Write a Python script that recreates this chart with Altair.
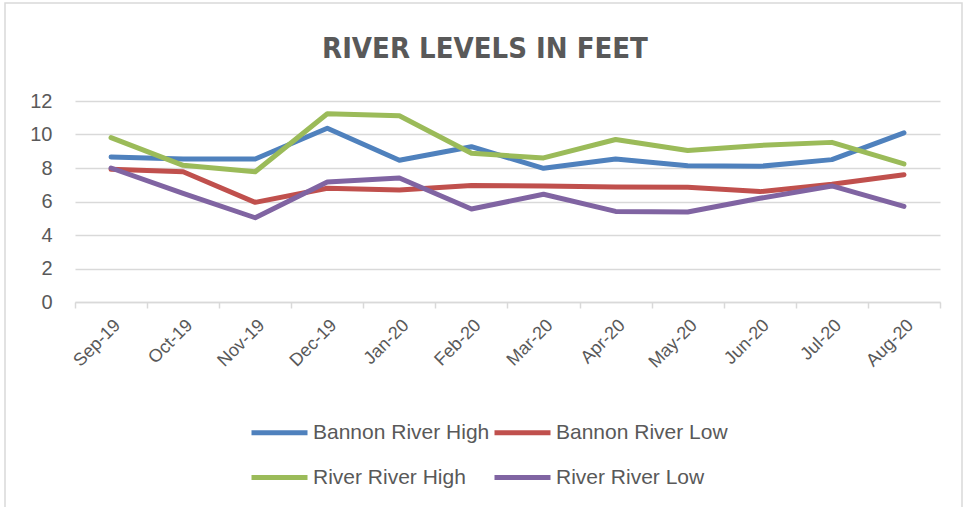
import altair as alt
import pandas as pd

months = ["Sep-19", "Oct-19", "Nov-19", "Dec-19", "Jan-20", "Feb-20",
          "Mar-20", "Apr-20", "May-20", "Jun-20", "Jul-20", "Aug-20"]
series_names = ["Bannon River High", "Bannon River Low", "River River High", "River River Low"]
bannon_high = [8.66, 8.54, 8.54, 10.37, 8.46, 9.27, 7.98, 8.54, 8.14, 8.10, 8.50, 10.10]
bannon_low = [7.92, 7.78, 5.95, 6.79, 6.69, 6.95, 6.93, 6.87, 6.85, 6.59, 7.03, 7.60]
river_high = [9.81, 8.16, 7.78, 11.24, 11.12, 8.88, 8.60, 9.70, 9.05, 9.35, 9.53, 8.24]
river_low = [8.00, 6.49, 5.03, 7.16, 7.40, 5.55, 6.43, 5.41, 5.37, 6.19, 6.93, 5.71]
colors = ["#4f81bd", "#c0504d", "#9bbb59", "#8064a2"]
y_ticks = [0, 2, 4, 6, 8, 10, 12]
title_text = ["RIVER LEVELS IN FEET"]

rows = []
for name, vals in zip(series_names, [bannon_high, bannon_low, river_high, river_low]):
    for m, v in zip(months, vals):
        rows.append({"Month": m, "Series": name, "Level": v})
df = pd.DataFrame(rows)

FONT = "Liberation Sans"
TITLE_FONT = "Liberation Sans Narrow, DejaVu Sans Condensed, Liberation Sans"
GREY = "#595959"

lines = alt.Chart(df).mark_line(strokeWidth=5, strokeCap="round", strokeJoin="round").encode(
    x=alt.X("Month:N", sort=months,
            scale=alt.Scale(type="band", paddingInner=0, paddingOuter=0),
            axis=alt.Axis(title=None, labelAngle=-45, labelFontSize=18, labelColor=GREY,
                          labelFont=FONT, domainColor="#d9d9d9", domainWidth=1.5,
                          tickColor="#d9d9d9", tickWidth=1.5, tickSize=6, tickBand="extent",
                          labelPadding=8, grid=False)),
    y=alt.Y("Level:Q", scale=alt.Scale(domain=[0, 12], nice=False),
            axis=alt.Axis(title=None, values=y_ticks, labelFontSize=20, labelColor=GREY,
                          labelFont=FONT, labelPadding=23, domain=False, ticks=False,
                          grid=True, gridColor="#d9d9d9", gridWidth=1.5)),
    color=alt.Color("Series:N", sort=series_names,
                    scale=alt.Scale(domain=series_names, range=colors),
                    legend=alt.Legend(title=None, orient="none", legendX=174, legendY=301,
                                      direction="horizontal", columns=2,
                                      symbolType="stroke", symbolSize=3136,
                                      symbolStrokeWidth=5, labelFontSize=21,
                                      labelColor=GREY, labelFont=FONT, labelOffset=3,
                                      labelLimit=400, columnPadding=-6, rowPadding=4,
                                      padding=0)),
)

border_df = pd.DataFrame({"k": [0]})
border = alt.Chart(border_df).mark_rect(fill="transparent", stroke="#d9d9d9", strokeWidth=1.5).encode(
    x=alt.value(-70), x2=alt.value(887), y=alt.value(-98), y2=alt.value(430)
)

title = alt.Chart(pd.DataFrame({"t": title_text})).mark_text(
    font=TITLE_FONT, fontSize=29, fontWeight="bold", color=GREY,
    align="center", baseline="alphabetic"
).encode(text="t:N", x=alt.value(410), y=alt.value(-43))

chart = alt.layer(border, title, lines).properties(
    width=865, height=201,
    autosize="none",
    padding={"left": 75, "top": 101, "right": 30, "bottom": 205},
).configure_view(stroke=None)

chart.save("out.html", embed_options={"renderer": "svg", "actions": False})
